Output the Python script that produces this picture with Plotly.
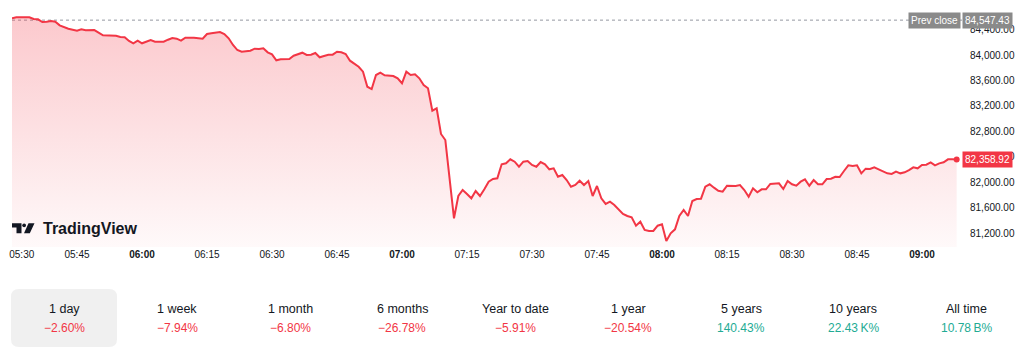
import pandas as pd
import plotly.graph_objects as go

# ---------------- data ----------------
times = ["05:30","05:31","05:34","05:35","05:36","05:37","05:38","05:39","05:40","05:41","05:43","05:44","05:45","05:46","05:47","05:49","05:50","05:51","05:54","05:55","05:56","05:57","05:58","05:59",
         "06:00","06:01","06:02","06:03","06:05","06:06","06:07","06:08","06:09","06:10","06:12","06:14","06:15","06:16","06:18","06:19","06:20","06:21","06:22","06:23","06:25","06:26","06:27","06:28","06:29","06:30","06:31","06:32","06:34","06:35","06:36","06:37","06:38","06:39","06:40","06:41","06:42","06:43","06:44","06:45","06:46","06:47","06:48","06:49","06:50","06:51","06:52","06:53","06:54","06:55","06:56","06:58","06:59",
         "07:00","07:01","07:02","07:03","07:04","07:05","07:06","07:07","07:08","07:09","07:10","07:12","07:13","07:14","07:15","07:16","07:17","07:18","07:19","07:20","07:21","07:22","07:23","07:24","07:25","07:26","07:27","07:28","07:29","07:30","07:31","07:32","07:33","07:34","07:35","07:36","07:37","07:38","07:39","07:40","07:41","07:42","07:43","07:44","07:45","07:46","07:47","07:48","07:49","07:51","07:52","07:53","07:54","07:55","07:56","07:57","07:58","07:59",
         "08:00","08:01","08:02","08:03","08:04","08:05","08:06","08:07","08:08","08:09","08:10","08:11","08:12","08:13","08:14","08:15","08:17","08:18","08:19","08:20","08:21","08:22","08:23","08:24","08:25","08:27","08:28","08:29","08:30","08:31","08:32","08:33","08:34","08:35","08:36","08:37","08:38","08:39","08:40","08:41","08:42","08:43","08:44","08:45","08:46","08:47","08:48","08:49","08:50","08:52","08:53","08:54","08:55","08:56","08:57","08:58","08:59",
         "09:00","09:01","09:02","09:03","09:04","09:05","09:06","09:07","09:08"]
prices = [84576,84592,84592,84565,84560,84518,84523,84534,84523,84466,84413,84403,84382,84403,84388,84392,84350,84309,84303,84283,84278,84220,84184,84225,
          84184,84204,84236,84209,84209,84240,84267,84256,84225,84272,84272,84256,84330,84341,84361,84330,84262,84157,84078,84052,84067,84099,84094,84105,84042,84011,83917,83932,83937,83989,84011,84036,84000,84005,84031,83964,83984,84005,84005,84052,84042,84016,83911,83859,83816,83738,83502,83466,83686,83722,83681,83670,83634,
          83556,83738,83686,83697,83634,83529,83477,83126,83163,82760,82665,81436,81786,81880,81818,81750,81865,81786,81891,82011,82053,82064,82284,82300,82362,82325,82246,82325,82336,82273,82246,82320,82284,82205,82221,82089,82116,82037,81932,81959,82026,81959,82021,81786,81943,81750,81661,81697,81645,81504,81472,81452,81320,81383,81253,81237,81237,81320,
          81342,81080,81201,81263,81472,81566,81472,81708,81739,81744,81932,81970,81917,81869,81854,81948,81943,81959,81880,81775,81907,81844,81891,81891,81975,81986,81896,82022,81970,81948,82011,82048,81948,82037,81970,81970,82053,82058,82089,82085,82179,82268,82257,82268,82142,82215,82210,82237,82205,82142,82132,82168,82142,82158,82194,82237,82221,
          82273,82278,82315,82268,82299,82315,82362,82362,82358.92]

prev_close = 84547.43
last_price = 82358.92
y_ticks = [81200, 81600, 82000, 82400, 82800, 83200, 83600, 84000, 84400]
x_tick_times = ["05:30","05:45","06:00","06:15","06:30","06:45","07:00","07:15","07:30","07:45","08:00","08:15","08:30","08:45","09:00"]
periods = ["1 day", "1 week", "1 month", "6 months", "Year to date", "1 year", "5 years", "10 years", "All time"]
changes = ["\u22122.60%", "\u22127.94%", "\u22126.80%", "\u221226.78%", "\u22125.91%", "\u221220.54%", "140.43%", "22.43\u202fK%", "10.78\u202fB%"]
change_up = [False, False, False, False, False, False, True, True, True]

# ---------------- layout helpers ----------------
W, H = 1024, 353
L, R, T, B = 12, 62, 0, 106
PW, PH = W - L - R, H - T - B
DAY = "2025-01-01 "


def px_x(px):
    return (px - L) / PW


def px_y(py):
    return (H - B - py) / PH


RED = "#F23645"
TEAL = "#22AB94"
TXT = "#131722"
FONT = "Liberation Sans"
AX_SIZE = 10

x = pd.to_datetime([DAY + t for t in times])
tickvals = list(pd.to_datetime([DAY + t for t in x_tick_times]))
# the first label is nudged inward so it stays inside the chart (as TradingView does)
tickvals[0] = tickvals[0] + pd.Timedelta(seconds=135)
ticktext = ["<b>" + t + "</b>" if t.endswith(":00") else t for t in x_tick_times]

y_top = 84863.5
y_bot = 80985.6

fig = go.Figure()
fig.add_trace(go.Scatter(
    x=x, y=prices, mode="lines",
    line=dict(color=RED, width=2),
    fill="tozeroy",
    fillgradient=dict(type="vertical", start=y_bot, stop=84600,
                      colorscale=[[0, "rgba(242,54,69,0.03)"], [1, "rgba(242,54,69,0.27)"]]),
    hoverinfo="skip", showlegend=False,
))
fig.add_trace(go.Scatter(
    x=[x[-1]], y=[prices[-1]], mode="markers",
    marker=dict(color=RED, size=6), hoverinfo="skip", showlegend=False,
))

shapes = []
# previous close dotted line
shapes.append(dict(type="line", xref="paper", yref="y", x0=0, x1=1, y0=prev_close, y1=prev_close,
                   line=dict(color="#9598a1", width=1, dash="dot"), layer="below"))
# selected period background (rounded rect)
bx0, bx1, by0, by1 = px_x(11), px_x(117), px_y(289), px_y(347)
rx, ry = 8 / PW, 8 / PH
path = (f"M {bx0+rx},{by0} L {bx1-rx},{by0} Q {bx1},{by0} {bx1},{by0-ry} "
        f"L {bx1},{by1+ry} Q {bx1},{by1} {bx1-rx},{by1} L {bx0+rx},{by1} "
        f"Q {bx0},{by1} {bx0},{by1+ry} L {bx0},{by0-ry} Q {bx0},{by0} {bx0+rx},{by0} Z")
shapes.append(dict(type="path", xref="paper", yref="paper", path=path,
                   fillcolor="#f0f0f0", line=dict(width=0), layer="below"))
# TradingView logo
logo_T = (f"M {px_x(12)},{px_y(223.3)} L {px_x(21.5)},{px_y(223.3)} L {px_x(21.5)},{px_y(233.3)} "
          f"L {px_x(16.5)},{px_y(233.3)} L {px_x(16.5)},{px_y(227.5)} L {px_x(12)},{px_y(227.5)} Z")
shapes.append(dict(type="path", xref="paper", yref="paper", path=logo_T, fillcolor=TXT, line=dict(width=0)))
shapes.append(dict(type="circle", xref="paper", yref="paper",
                   x0=px_x(22.3), x1=px_x(26.0), y0=px_y(223.5), y1=px_y(227.2),
                   fillcolor=TXT, line=dict(width=0)))
logo_V = (f"M {px_x(28.5)},{px_y(223.3)} L {px_x(34.5)},{px_y(223.3)} L {px_x(29.8)},{px_y(233.3)} "
          f"L {px_x(24.0)},{px_y(233.3)} Z")
shapes.append(dict(type="path", xref="paper", yref="paper", path=logo_V, fillcolor=TXT, line=dict(width=0)))

annotations = []
annotations.append(dict(xref="paper", yref="paper", x=px_x(41), y=px_y(228.5), xanchor="left", yanchor="middle",
                        text="<b>TradingView</b>", showarrow=False,
                        font=dict(family=FONT, size=16, color=TXT)))
# prev close labels
annotations.append(dict(xref="paper", yref="y", x=px_x(961), y=prev_close, xanchor="right", yanchor="middle",
                        text="Prev close", showarrow=False, bgcolor="#8a8a8a", borderpad=2,
                        font=dict(family=FONT, size=AX_SIZE, color="white")))
annotations.append(dict(xref="paper", yref="y", x=px_x(962), y=prev_close, xanchor="left", yanchor="middle",
                        text=f"{prev_close:,.2f}", showarrow=False, bgcolor="#8a8a8a", borderpad=2,
                        font=dict(family=FONT, size=AX_SIZE, color="white")))
# last price label
annotations.append(dict(xref="paper", yref="y", x=px_x(962), y=last_price, xanchor="left", yanchor="middle",
                        text=f"{last_price:,.2f}", showarrow=False, bgcolor=RED, borderpad=2,
                        font=dict(family=FONT, size=AX_SIZE, color="white")))
# period performance row
centers = [64, 177, 290, 402, 515, 628, 741, 853, 966]
for cx, p, c, up in zip(centers, periods, changes, change_up):
    annotations.append(dict(xref="paper", yref="paper", x=px_x(cx), y=px_y(309), xanchor="center", yanchor="middle",
                            text=p, showarrow=False, font=dict(family=FONT, size=12.5, color=TXT)))
    annotations.append(dict(xref="paper", yref="paper", x=px_x(cx), y=px_y(328), xanchor="center", yanchor="middle",
                            text=c, showarrow=False, font=dict(family=FONT, size=12, color=TEAL if up else RED)))

fig.update_layout(
    width=W, height=H,
    margin=dict(l=L, r=R, t=T, b=B, autoexpand=False),
    paper_bgcolor="white", plot_bgcolor="white",
    font=dict(family=FONT, size=AX_SIZE, color=TXT),
    showlegend=False,
    shapes=shapes, annotations=annotations,
    xaxis=dict(type="date", range=[DAY + "05:30", DAY + "09:09:14"],
               tickmode="array", tickvals=tickvals, ticktext=ticktext,
               showgrid=False, zeroline=False, showline=False, ticks="",
               ticklabeloverflow="allow", automargin=False,
               tickfont=dict(family=FONT, size=AX_SIZE, color=TXT), fixedrange=True),
    yaxis=dict(side="right", range=[y_bot, y_top], tickmode="array", tickvals=y_ticks,
               tickformat=",.2f", showgrid=False, zeroline=False, showline=False, ticks="",
               ticklabelstandoff=7, automargin=False,
               tickfont=dict(family=FONT, size=AX_SIZE, color=TXT), fixedrange=True),
)

fig.write_html("out.html", config={"displayModeBar": False})
